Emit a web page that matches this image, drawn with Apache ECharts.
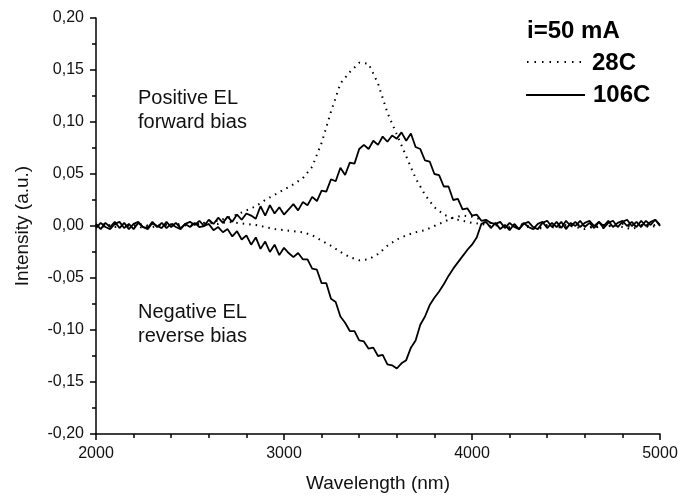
<!DOCTYPE html>
<html>
<head>
<meta charset="utf-8">
<script src="https://cdn.jsdelivr.net/npm/echarts@6/dist/echarts.min.js"></script>
<style>
html,body{margin:0;padding:0;background:#fff;}
#chart{width:681px;height:500px;}
</style>
</head>
<body>
<div id="chart"></div>
<script>
// Wavelength grids (nm)
var solidStart = 2000, solidStep = 25;
var dotStart = 2000, dotStep = 50;

// 106C, forward bias (solid, positive EL)
var hot106Forward = [
  0.002,-0.003,0.003,-0.001,0.004,-0.002,0.003,-0.003,0.002,0.004,-0.001,-0.003,0.003,0.000,-0.002,0.004,-0.001,0.003,-0.002,0.002,0.004,
  0.001,0.005,0.000,0.006,0.002,0.008,0.003,0.009,0.004,0.011,0.006,0.012,
  0.010,0.007,0.019,0.010,0.020,0.012,0.018,0.011,0.016,0.021,0.015,0.023,
  0.020,0.028,0.024,0.034,0.033,0.045,0.043,0.056,0.049,0.061,0.060,0.074,
  0.078,0.074,0.082,0.078,0.086,0.081,0.087,0.084,0.090,0.082,0.089,0.076,
  0.074,0.063,0.062,0.050,0.049,0.038,0.038,0.025,0.026,0.016,0.017,0.010,
  0.011,0.005,0.006,0.003,0.002,0.004,-0.002,0.003,-0.001,-0.003,0.002,0.004,
  -0.001,-0.003,0.003,0.005,-0.001,0.004,-0.002,0.005,0.000,0.004,-0.001,0.003,
  0.005,0.000,0.004,-0.002,0.003,0.005,-0.001,0.004,0.006,0.000,0.004,-0.001,0.005,0.001,0.006,0.000
];

// 106C, reverse bias (solid, negative EL)
var hot106Reverse = [
  -0.002,0.003,-0.001,-0.003,0.002,0.004,-0.002,0.002,-0.003,0.003,-0.001,-0.002,0.004,-0.001,0.003,-0.002,0.002,-0.001,-0.003,0.002,-0.001,
  0.003,-0.001,0.000,0.002,-0.004,-0.001,-0.006,-0.003,-0.010,-0.005,-0.013,-0.009,
  -0.018,-0.011,-0.022,-0.015,-0.025,-0.018,-0.028,-0.021,-0.026,-0.030,-0.026,-0.032,
  -0.032,-0.041,-0.042,-0.055,-0.055,-0.070,-0.073,-0.087,-0.093,-0.101,-0.101,-0.110,
  -0.111,-0.118,-0.117,-0.125,-0.124,-0.133,-0.134,-0.137,-0.132,-0.129,-0.117,-0.110,
  -0.095,-0.087,-0.076,-0.069,-0.063,-0.056,-0.048,-0.041,-0.035,-0.029,-0.023,-0.018,
  -0.011,0.002,0.004,-0.002,0.003,-0.003,0.001,-0.004,0.002,-0.003,0.003,-0.001,
  -0.003,0.002,0.004,-0.002,0.003,-0.001,0.004,-0.003,0.003,0.000,0.005,-0.001,
  0.003,-0.002,0.004,0.000,0.005,-0.001,0.003,0.005,0.000,0.004,-0.001,0.005,0.000,0.004,0.006,0.001
];

// 28C, forward bias (dotted, positive EL)
var cold28Forward = [
  0.001,-0.001,0.002,0.000,0.001,-0.002,0.002,0.000,0.001,0.002,0.000,
  0.002,0.004,0.005,0.008,0.011,0.015,0.019,0.025,0.030,0.035,
  0.040,0.046,0.057,0.080,0.110,0.137,0.148,0.157,0.156,0.137,
  0.109,0.088,0.067,0.046,0.030,0.018,0.011,0.007,0.005,0.003,
  0.002,0.000,0.001,-0.001,0.002,0.000,-0.002,0.001,0.000,-0.001,0.002,0.000,-0.002,0.001,0.000,0.002,-0.001,0.001,0.000,0.002
];

// 28C, reverse bias (dotted, negative EL)
var cold28Reverse = [
  0.000,0.002,-0.001,0.001,0.000,0.002,-0.001,0.001,0.002,0.000,0.001,
  0.002,0.003,0.002,0.004,0.003,0.002,0.001,-0.001,-0.003,-0.004,
  -0.005,-0.006,-0.009,-0.014,-0.019,-0.025,-0.030,-0.033,-0.032,-0.027,
  -0.019,-0.013,-0.009,-0.006,-0.004,0.000,0.004,0.008,0.010,0.009,
  0.006,0.003,0.000,-0.002,0.001,-0.001,-0.003,0.000,-0.002,0.001,-0.001,-0.003,0.000,-0.002,0.001,-0.001,-0.003,0.000,-0.001,0.001
];

var yTicks = [-0.20,-0.15,-0.10,-0.05,0.00,0.05,0.10,0.15,0.20];
var xTicks = [2000,3000,4000,5000];

function pairs(vals, start, step){
  return vals.map(function(v,i){ return [start + i*step, v]; });
}

var FONT = 'Liberation Sans, Arial, sans-serif';
var chart = echarts.init(document.getElementById('chart'), null, {renderer:'canvas'});

var axisCommon = {
  axisLine:{show:true, onZero:false, lineStyle:{color:'#000', width:1.5}},
  axisTick:{show:true, inside:false, length:6, lineStyle:{color:'#000', width:1.5}},
  splitLine:{show:false},
  nameTextStyle:{fontFamily:FONT, fontSize:19, color:'#111'}
};

chart.setOption({
  animation:false,
  backgroundColor:'#fff',
  grid:{left:96, right:21, top:18, bottom:66, containLabel:false},
  xAxis: Object.assign({}, axisCommon, {
    type:'value', min:xTicks[0], max:xTicks[xTicks.length-1], interval:1000,
    minorTick:{show:true, splitNumber:5, length:4, lineStyle:{color:'#000', width:1.5}},
    axisLabel:{fontFamily:FONT, fontSize:16, color:'#111', margin:12,
      formatter:function(v){ return String(v); }},
    name:'Wavelength (nm)', nameLocation:'middle', nameGap:40
  }),
  yAxis: Object.assign({}, axisCommon, {
    type:'value', min:yTicks[0], max:yTicks[yTicks.length-1], interval:0.05,
    minorTick:{show:true, splitNumber:2, length:4, lineStyle:{color:'#000', width:1.5}},
    axisLabel:{fontFamily:FONT, fontSize:16, color:'#111', margin:12,
      formatter:function(v){ return v.toFixed(2).replace('.', ','); }},
    name:'Intensity (a.u.)', nameLocation:'middle', nameGap:64
  }),
  series:[
    {name:'28C forward', type:'line', showSymbol:false, data:pairs(cold28Forward, dotStart, dotStep),
      lineStyle:{color:'#000', width:2, type:[1.5,5]}},
    {name:'28C reverse', type:'line', showSymbol:false, data:pairs(cold28Reverse, dotStart, dotStep),
      lineStyle:{color:'#000', width:2, type:[1.5,5]}},
    {name:'106C forward', type:'line', showSymbol:false, data:pairs(hot106Forward, solidStart, solidStep),
      lineStyle:{color:'#000', width:1.8}},
    {name:'106C reverse', type:'line', showSymbol:false, data:pairs(hot106Reverse, solidStart, solidStep),
      lineStyle:{color:'#000', width:1.8}}
  ],
  graphic:[
    {type:'text', left:527, top:19, style:{text:'i=50 mA', font:'bold 24px '+FONT, fill:'#000'}},
    {type:'line', shape:{x1:527, y1:62, x2:581, y2:62}, style:{stroke:'#000', lineWidth:2, lineDash:[1.5,6]}},
    {type:'text', left:592, top:51, style:{text:'28C', font:'bold 24px '+FONT, fill:'#000'}},
    {type:'line', shape:{x1:526, y1:95, x2:585, y2:95}, style:{stroke:'#000', lineWidth:1.8}},
    {type:'text', left:593, top:83, style:{text:'106C', font:'bold 24px '+FONT, fill:'#000'}},
    {type:'text', left:138, top:88, style:{text:'Positive EL', font:'20px '+FONT, fill:'#111'}},
    {type:'text', left:138, top:112, style:{text:'forward bias', font:'20px '+FONT, fill:'#111'}},
    {type:'text', left:138, top:302, style:{text:'Negative EL', font:'20px '+FONT, fill:'#111'}},
    {type:'text', left:138, top:326, style:{text:'reverse bias', font:'20px '+FONT, fill:'#111'}}
  ]
});
</script>
</body>
</html>
